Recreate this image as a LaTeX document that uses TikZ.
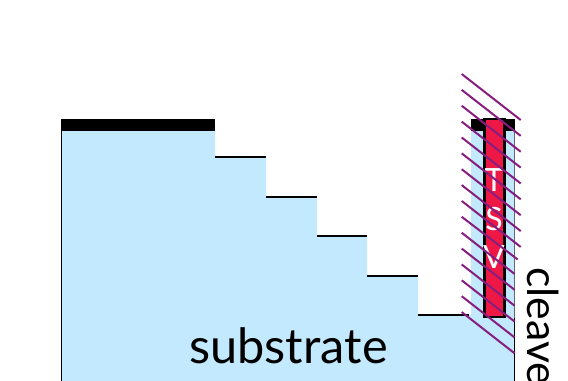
\documentclass[tikz,border=0pt]{standalone}
\usepackage{fontspec}
\setmainfont{Lato}
\definecolor{subblue}{HTML}{C3E9FF}
\definecolor{tsvred}{HTML}{EE1846}
\definecolor{hatch}{HTML}{861E80}
\tikzset{
  outline/.style={draw=black,line width=1.4pt},
  bigtext/.style={font=\fontsize{36.5pt}{38pt}\selectfont,inner sep=0pt,text=black},
  tsvletter/.style={font=\fontsize{24pt}{26pt}\selectfont,inner sep=0pt,text=white},
  hatchline/.style={draw=hatch,line width=1.5pt}
}
\begin{document}
\begin{tikzpicture}[x=0.75pt,y=-0.75pt]
\useasboundingbox (0,0) rectangle (568,381);
\clip (0,0) rectangle (568,381);
\fill[subblue] (61,125) -- (215,125) -- (215,157) -- (266,157) -- (266,197) -- (317,197) -- (317,236) -- (367,236) -- (367,276) -- (418,276) -- (418,315) -- (471,315) -- (471,125) -- (514.5,125) -- (514.5,381) -- (61,381) -- cycle;
\draw[outline] (215,157) -- (266,157);
\draw[outline] (266,197) -- (317,197);
\draw[outline] (317,236) -- (367,236);
\draw[outline] (367,276) -- (418,276);
\draw[outline] (418,315) -- (469,315);
\draw[outline] (61.5,129) -- (61.5,381);
\draw[outline,draw=black!60] (514.5,128) -- (514.5,318);
\draw[outline] (514.5,318) -- (514.5,381);
\fill[black] (61,119) rectangle (215,131);
\fill[black] (471,119) rectangle (515,131);
\draw[draw=black,line width=2pt,fill=tsvred] (484.7,119) rectangle (504.3,317);
\node[tsvletter] (t) at (494,180) {T};
\node[tsvletter] (s) at (494,219) {S};
\node[tsvletter] (v) at (494,257) {V};
\foreach \k in {0,...,8}{
  \draw[hatchline] (461.7,74+15.87*\k) -- (520.7,120+15.87*\k);
}
\draw[hatchline] (461.7,216.8) -- (517.7,259.5);
\foreach \k in {10,...,15}{
  \draw[hatchline] (461.7,74+15.87*\k) -- (514.5,115.2+15.87*\k);
}
\node[bigtext] (substrate) at (288.5,346) {substrate};
\node[bigtext,font=\fontsize{32pt}{34pt}\selectfont,rotate=-90,anchor=west] (cleave) at (543,267) {cleave};
\end{tikzpicture}
\end{document}
